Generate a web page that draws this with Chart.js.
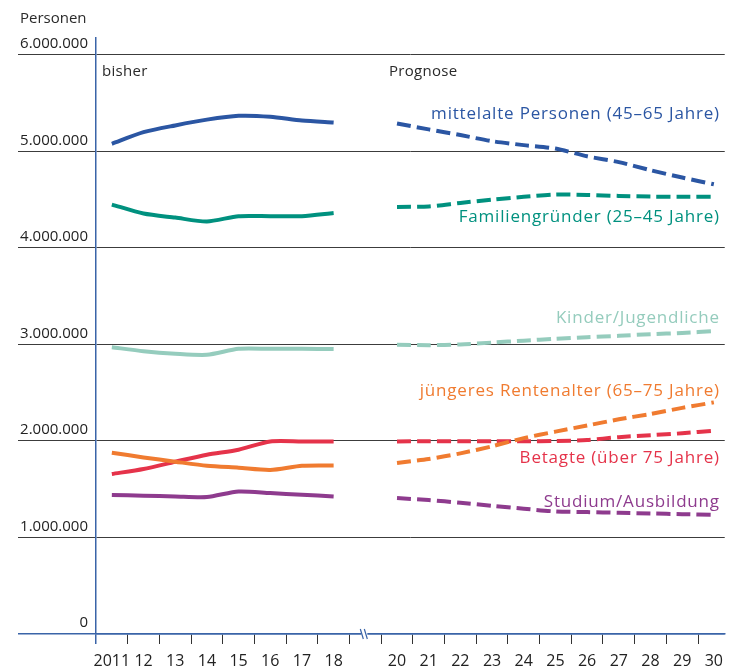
<!DOCTYPE html>
<html>
<head>
<meta charset="utf-8">
<script src="https://cdn.jsdelivr.net/npm/chart.js@4"></script>
<style>
  html, body { margin: 0; padding: 0; background: #fff; }
  #wrap { width: 731px; height: 670px; position: relative; }
</style>
</head>
<body>
<div id="wrap"><canvas id="c"></canvas></div>
<script>
// ---- data ----
const pastYears = [2011, 2012, 2013, 2014, 2015, 2016, 2017, 2018];
const futureYears = [2020, 2021, 2022, 2023, 2024, 2025, 2026, 2027, 2028, 2029, 2030];
const tickYears = [2011, 2012, 2013, 2014, 2015, 2016, 2017, 2018, 2019, 2020, 2021, 2022, 2023, 2024, 2025, 2026, 2027, 2028, 2029, 2030];
const yTicks = [0, 1000000, 2000000, 3000000, 4000000, 5000000, 6000000];

const seriesNames = [
  'mittelalte Personen (45–65 Jahre)',
  'Familiengründer (25–45 Jahre)',
  'Kinder/Jugendliche',
  'jüngeres Rentenalter (65–75 Jahre)',
  'Betagte (über 75 Jahre)',
  'Studium/Ausbildung'
];
const seriesColors = ['#2B56A3', '#00917F', '#95CCBD', '#F07B30', '#E5334A', '#8E3B8E'];

// bisher (2011–2018)
const mittelaltePast = [5080000, 5200000, 5270000, 5330000, 5370000, 5360000, 5320000, 5300000];
const familienPast   = [4450000, 4357000, 4315000, 4275000, 4330000, 4330000, 4330000, 4363000];
const kinderPast     = [2972000, 2930000, 2904000, 2893000, 2955000, 2955000, 2955000, 2952000];
const rentenPast     = [1879000, 1830000, 1786000, 1744000, 1723000, 1700000, 1744000, 1747000];
const betagtePast    = [1658000, 1710000, 1785000, 1858000, 1910000, 1995000, 1995000, 1995000];
const studiumPast    = [1440000, 1433000, 1425000, 1419000, 1477000, 1460000, 1443000, 1425000];

// Prognose (2020–2030)
const mittelalteProg = [5290000, 5229000, 5170000, 5107000, 5066000, 5030000, 4950000, 4890000, 4806000, 4730000, 4660000];
const familienProg   = [4426000, 4430000, 4467000, 4500000, 4530000, 4554000, 4550000, 4540000, 4533000, 4530000, 4530000];
const kinderProg     = [2997000, 2993000, 3000000, 3020000, 3040000, 3060000, 3076000, 3090000, 3107000, 3120000, 3138000];
const rentenProg     = [1772000, 1813000, 1872000, 1945000, 2030000, 2097000, 2160000, 2225000, 2280000, 2343000, 2400000];
const betagteProg    = [1995000, 1998000, 1998000, 1998000, 1998000, 2000000, 2010000, 2040000, 2060000, 2080000, 2107000];
const studiumProg    = [1409000, 1388000, 1360000, 1329000, 1298000, 1270000, 1263000, 1256000, 1249000, 1242000, 1235000];

// value at which each series label is placed (right-aligned at 2030)
const labelValues = [5390000, 4315000, 3270000, 2520000, 1820000, 1370000];

const pastSeries = [mittelaltePast, familienPast, kinderPast, rentenPast, betagtePast, studiumPast];
const progSeries = [mittelalteProg, familienProg, kinderProg, rentenProg, betagteProg, studiumProg];

const FONT = "'Open Sans', 'Noto Sans', sans-serif";
const AXIS_BLUE = '#3A64A8';
const GRID = '#3c3c3c';

function pts(xs, ys) { return xs.map((x, i) => ({ x: x, y: ys[i] })); }

const datasets = [];
seriesNames.forEach((name, i) => {
  datasets.push({
    label: name + ' (bisher)',
    data: pts(pastYears, pastSeries[i]),
    borderColor: seriesColors[i],
    borderWidth: 4,
    pointRadius: 0,
    tension: 0.25,
    fill: false
  });
  datasets.push({
    label: name + ' (Prognose)',
    data: pts(futureYears, progSeries[i]),
    borderColor: seriesColors[i],
    borderWidth: 4,
    borderDash: [14, 6],
    borderCapStyle: 'butt',
    pointRadius: 0,
    tension: 0.25,
    fill: false
  });
});

const annotations = {
  id: 'annotations',
  afterDraw(chart) {
    const ctx = chart.ctx;
    const x = chart.scales.x, y = chart.scales.y;
    const area = chart.chartArea;
    ctx.save();
    ctx.font = '15px ' + FONT;
    ctx.textBaseline = 'middle';
    ctx.fillStyle = '#2a2a2a';
    ctx.textAlign = 'left';
    ctx.fillText('Personen', 20, 19);
    ctx.font = '15px ' + FONT;
    ctx.letterSpacing = '0.3px';
    ctx.fillText('bisher', area.left + 6, 72);
    ctx.fillText('Prognose', x.getPixelForValue(2020) - 8, 72);
    // series labels
    ctx.font = '17px ' + FONT;
    ctx.letterSpacing = '0.8px';
    ctx.textAlign = 'right';
    seriesNames.forEach((name, i) => {
      ctx.fillStyle = seriesColors[i];
      ctx.fillText(name, x.getPixelForValue(2030) + 6, y.getPixelForValue(labelValues[i]));
    });
    ctx.letterSpacing = '0px';
    // axis break mark
    const bx = x.getPixelForValue(2019);
    const by = area.bottom;
    ctx.fillStyle = '#fff';
    ctx.fillRect(bx - 4, by - 2, 6, 4);
    ctx.strokeStyle = AXIS_BLUE;
    ctx.lineWidth = 1.2;
    ctx.beginPath();
    ctx.moveTo(bx - 5, by - 5); ctx.lineTo(bx - 2, by + 5);
    ctx.moveTo(bx - 1, by - 5); ctx.lineTo(bx + 2, by + 5);
    ctx.stroke();
    ctx.restore();
  }
};

new Chart(document.getElementById('c'), {
  type: 'line',
  data: { datasets: datasets },
  options: {
    responsive: true,
    maintainAspectRatio: false,
    animation: false,
    layout: { padding: { left: 18, top: 38, right: 0, bottom: 0 } },
    plugins: { legend: { display: false }, tooltip: { enabled: false }, title: { display: false } },
    scales: {
      x: {
        type: 'linear',
        min: 2010.5,
        max: 2030.34375,
        afterBuildTicks: (s) => { s.ticks = tickYears.map(v => ({ value: v })); },
        afterFit: (s) => { s.height = 36; },
        grid: {
          offset: true,
          drawOnChartArea: false,
          drawTicks: true,
          tickLength: 10,
          color: (c) => c.index === 0 ? AXIS_BLUE : '#333',
          lineWidth: (c) => c.index === 0 ? 1.5 : 1
        },
        border: { display: true, color: AXIS_BLUE, width: 1.5 },
        ticks: {
          autoSkip: false,
          maxRotation: 0,
          padding: 8,
          color: '#222',
          font: { family: FONT, size: 16 },
          callback: (v) => v === 2011 ? '2011' : (v === 2019 ? '' : String(v).slice(2))
        }
      },
      y: {
        type: 'linear',
        min: 0,
        max: 6176000,
        afterBuildTicks: (s) => { s.ticks = yTicks.map(v => ({ value: v })); },
        afterFit: (s) => { s.width = 78; },
        grid: {
          drawTicks: true,
          tickLength: 78,
          color: (c) => c.tick && c.tick.value === 0 ? AXIS_BLUE : GRID,
          lineWidth: (c) => c.tick && c.tick.value === 0 ? 1.5 : 1
        },
        border: { display: true, color: AXIS_BLUE, width: 1.5 },
        ticks: {
          padding: -70,
          labelOffset: -11,
          color: '#222',
          font: { family: FONT, size: 15 },
          callback: (v) => v.toLocaleString('de-DE')
        }
      }
    }
  },
  plugins: [annotations]
});
</script>
</body>
</html>
